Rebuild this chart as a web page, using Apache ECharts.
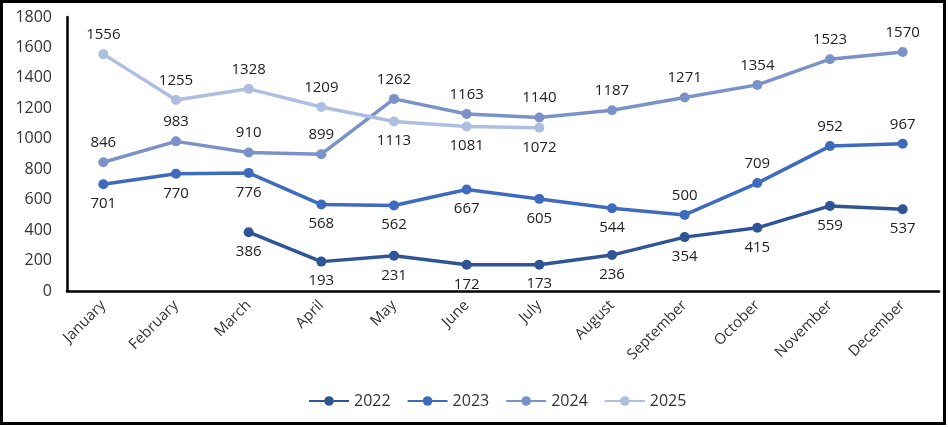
<!DOCTYPE html>
<html><head><meta charset="utf-8">
<script src="https://cdn.jsdelivr.net/npm/echarts@6/dist/echarts.min.js"></script>
<style>html,body{margin:0;padding:0;background:#fff}#c{width:948px;height:427px}</style>
</head><body><div id="c"></div>
<script>
var months = ['January','February','March','April','May','June','July','August','September','October','November','December'];
var y2022 = [null, null, 386, 193, 231, 172, 173, 236, 354, 415, 559, 537];
var y2023 = [701, 770, 776, 568, 562, 667, 605, 544, 500, 709, 952, 967];
var y2024 = [846, 983, 910, 899, 1262, 1163, 1140, 1187, 1271, 1354, 1523, 1570];
var y2025 = [1556, 1255, 1328, 1209, 1113, 1081, 1072, null, null, null, null, null];
var pos2023 = ['bottom','bottom','bottom','bottom','bottom','bottom','bottom','bottom','top','top','top','top'];
var pos2025 = ['top','top','top','top','bottom','bottom','bottom'];

var FONT = '"Open Sans", "Noto Sans", sans-serif';
function mk(name, data, color, posFn) {
  return {
    name: name, type: 'line', data: data.map(function (v, i) {
      return v == null ? null : { value: v, label: { position: posFn(i) } };
    }),
    connectNulls: false,
    symbol: 'circle', symbolSize: 10,
    lineStyle: { width: 3.5, color: color },
    itemStyle: { color: color },
    label: { show: true, fontSize: 15, color: '#222', fontFamily: FONT, distance: 7 },
    emphasis: { disabled: true },
    z: 2
  };
}
var chart = echarts.init(document.getElementById('c'), null, { renderer: 'canvas' });
chart.setOption({
  animation: false,
  textStyle: { fontFamily: FONT },
  grid: { left: 67, right: 9, top: 17, bottom: 136, containLabel: false },
  graphic: [{ type: 'rect', shape: { x: 1.5, y: 1.5, width: 943, height: 422 }, style: { fill: 'none', stroke: '#000', lineWidth: 3 }, z: 100 }],
  legend: {
    bottom: 13, left: 303, itemWidth: 40, itemHeight: 12, itemGap: 16,
    textStyle: { fontSize: 16, color: '#333', fontFamily: FONT },
    data: ['2022','2023','2024','2025']
  },
  xAxis: {
    type: 'category', data: months, boundaryGap: true,
    axisLine: { lineStyle: { color: '#000', width: 2.5 } },
    axisTick: { show: false },
    axisLabel: { rotate: 45, fontSize: 15, color: '#333', margin: 12, interval: 0 }
  },
  yAxis: {
    type: 'value', min: 0, max: 1800, interval: 200,
    axisLine: { show: true, lineStyle: { color: '#000', width: 2.5 } },
    axisTick: { show: false },
    splitLine: { show: false },
    axisLabel: { fontSize: 16, color: '#333', margin: 15, formatter: function (v) { return String(v); } }
  },
  series: [
    mk('2022', y2022, '#2F5597', function () { return 'bottom'; }),
    mk('2023', y2023, '#3F6BBF', function (i) { return pos2023[i]; }),
    mk('2024', y2024, '#7A92C8', function () { return 'top'; }),
    mk('2025', y2025, '#ADBEE0', function (i) { return pos2025[i]; })
  ]
});
</script></body></html>
